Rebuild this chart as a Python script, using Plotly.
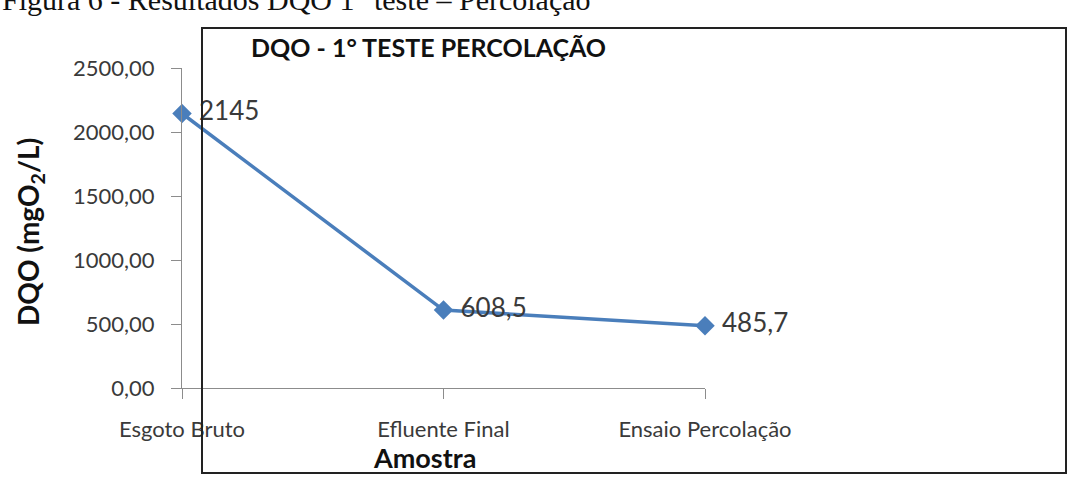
import plotly.graph_objects as go

categories = ["Esgoto Bruto", "Efluente Final", "Ensaio Percolação"]
values = [2145, 608.5, 485.7]
value_labels = ["2145", "608,5", "485,7"]
y_ticks = [0, 500, 1000, 1500, 2000, 2500]

W, H = 1068, 480

def px(x):
    return x / W

def py(y):
    return 1 - y / H

fig = go.Figure()
fig.add_trace(go.Scatter(
    x=list(range(len(categories))),
    y=values,
    mode="lines+markers+text",
    line=dict(color="#4A7EBB", width=3.5),
    marker=dict(symbol="diamond", size=15, color="#4A7EBB"),
    text=[" " + t for t in value_labels],
    textposition="middle right",
    textfont=dict(family="Lato", size=26, color="#3A3A3A"),
    cliponaxis=False,
    showlegend=False,
))

axis_font = dict(family="Lato", size=22, color="#3A3A3A")

fig.update_layout(
    template="none",
    width=W, height=H,
    margin=dict(l=0, r=0, t=0, b=0, pad=0, autoexpand=False),
    paper_bgcolor="white",
    plot_bgcolor="white",
    separators=",.",
    xaxis=dict(
        domain=[px(182), px(705)],
        range=[0, len(categories) - 1],
        tickvals=list(range(len(categories))),
        ticktext=categories,
        automargin=False,
        showgrid=False, zeroline=False,
        showline=True, linecolor="#8C8C8C", linewidth=1,
        ticks="outside", ticklen=10, tickcolor="#8C8C8C",
        tickfont=axis_font,
        ticklabelstandoff=12,
    ),
    yaxis=dict(
        domain=[py(388), py(68)],
        range=[0, 2500],
        tickvals=y_ticks,
        tickformat=".2f",
        automargin=False,
        showgrid=False, zeroline=False,
        showline=True, linecolor="#8C8C8C", linewidth=1,
        ticks="outside", ticklen=10, tickcolor="#8C8C8C",
        tickfont=axis_font,
        ticklabelstandoff=12,
    ),
    shapes=[
        dict(type="rect", xref="paper", yref="paper",
             x0=px(202), x1=px(1066), y0=py(473), y1=py(28),
             line=dict(color="#222222", width=2), layer="above"),
    ],
    annotations=[
        dict(text="Figura 6 - Resultados DQO 1° teste – Percolação",
             xref="paper", yref="paper", x=px(0), y=py(18),
             xanchor="left", yanchor="bottom", showarrow=False,
             font=dict(family="Liberation Serif", size=30, color="#111111")),
        dict(text="<b>DQO - 1° TESTE PERCOLAÇÃO</b>",
             xref="paper", yref="paper", x=px(428), y=py(47),
             xanchor="center", yanchor="middle", showarrow=False,
             font=dict(family="Lato", size=25, color="#111111")),
        dict(text="<b>Amostra</b>",
             xref="paper", yref="paper", x=px(424), y=py(457),
             xanchor="center", yanchor="middle", showarrow=False,
             font=dict(family="Lato", size=27, color="#111111")),
        dict(text="<b>DQO (mgO<sub>2</sub>/L)</b>",
             xref="paper", yref="paper", x=px(30), y=py(232),
             xanchor="center", yanchor="middle", showarrow=False,
             textangle=-90,
             font=dict(family="Lato", size=28, color="#111111")),
    ],
)

fig.write_html("out.html")
